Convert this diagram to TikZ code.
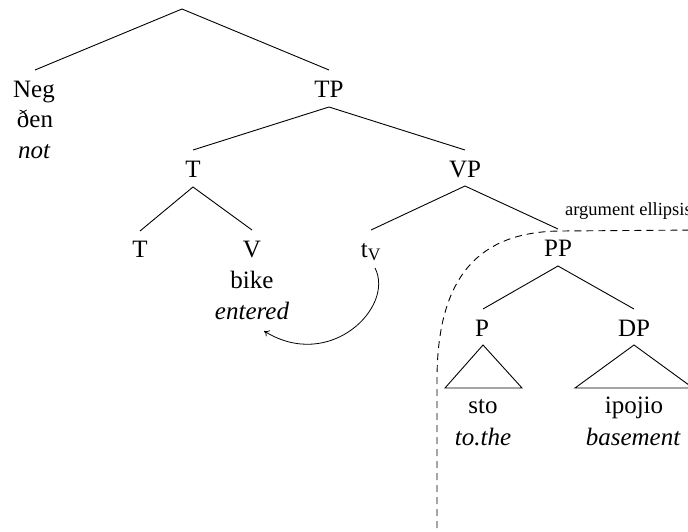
\documentclass[tikz,border=0pt]{standalone}
\usepackage{fontspec}
\setmainfont{Liberation Serif}
\usetikzlibrary{arrows.meta}
\begin{document}
\begin{tikzpicture}[x=1pt,y=-1pt,
  lab/.style={anchor=base,inner sep=0pt,font=\fontsize{25}{30}\selectfont},
  edge/.style={line width=0.9pt},
  elide/.style={line width=0.9pt,dash pattern=on 7pt off 5pt}]
\clip (0,0) rectangle (688,532);
% labels
\node[lab] (neg) at (34,98) {Neg};
\node[lab] (den) at (35,128) {ðen};
\node[lab] (not) at (34,158) {\itshape not};
\node[lab] (tp) at (329,98) {TP};
\node[lab] (t) at (193,177) {T};
\node[lab] (vp) at (465,177) {VP};
\node[lab] (t2) at (140,257) {T};
\node[lab] (v) at (252,257) {V};
\node[lab] (bike) at (252,288) {bike};
\node[lab] (entered) at (252,319) {\itshape entered};
\node[lab] (tv) at (371,257) {t\textsubscript{V}};
\node[lab] (pp) at (558,256) {PP};
\node[lab] (p) at (482,336) {P};
\node[lab] (dp) at (634,336) {DP};
\node[lab] (sto) at (483,413) {sto};
\node[lab] (tothe) at (483,445) {\itshape to.the};
\node[lab] (ipojio) at (634,413) {ipojio};
\node[lab] (basement) at (633,445) {\itshape basement};
\node[anchor=base west,inner sep=0pt,font=\fontsize{18.5}{22}\selectfont] (ae) at (565,215) {argument ellipsis};
% coordinates
\coordinate (r0) at (182,9);
\coordinate (negT) at (35,70);
\coordinate (tpT) at (329,70);
\coordinate (tpB) at (329,107);
\coordinate (tT) at (193,150);
\coordinate (vpT) at (465,150);
\coordinate (tB) at (193,187);
\coordinate (t2T) at (140,231);
\coordinate (vT) at (252,230);
\coordinate (vpB) at (465,186);
\coordinate (tvT) at (371,230);
\coordinate (ppT) at (558,229);
\coordinate (ppB) at (558,266);
\coordinate (pT) at (483,309);
\coordinate (dpT) at (634,309);
\coordinate (pA) at (483,345);
\coordinate (pL) at (445,388);
\coordinate (pR) at (522,388);
\coordinate (dpA) at (634,345);
\coordinate (dpL) at (575,388);
\coordinate (dpR) at (693,388);
\coordinate (mvS) at (375,268);
\coordinate (mvE) at (264,331);
\coordinate (elB) at (437,540);
\coordinate (elV) at (437,380);
\coordinate (elH) at (560,231);
\coordinate (elR) at (700,230);
% edges
\draw[edge] (negT) -- (r0) -- (tpT);
\draw[edge] (tT) -- (tpB) -- (vpT);
\draw[edge] (t2T) -- (tB) -- (vT);
\draw[edge] (tvT) -- (vpB) -- (ppT);
\draw[edge] (pT) -- (ppB) -- (dpT);
\draw[edge] (pA) -- (pL) -- (pR) -- cycle;
\draw[edge] (dpA) -- (dpL) -- (dpR) -- cycle;
% movement arrow
\draw[line width=0.8pt,-{To[length=5pt,width=7pt]}] (mvS) .. controls (395,307) and (330,372) .. (mvE);
% ellipsis region
\draw[elide] (elB) -- (elV) .. controls (437,275) and (480,232) .. (elH) -- (elR);
\end{tikzpicture}
\end{document}
